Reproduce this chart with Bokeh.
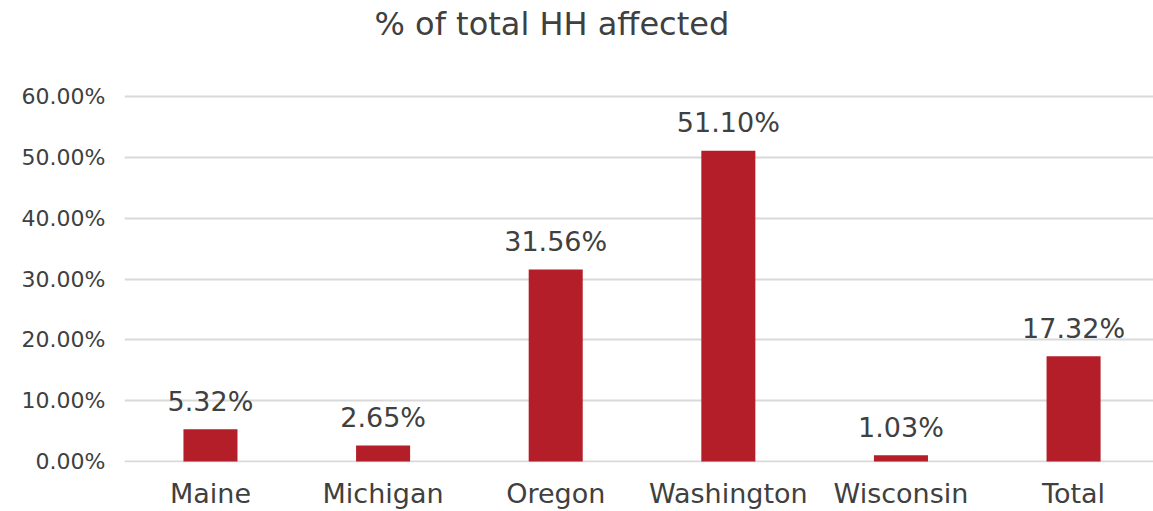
from bokeh.plotting import figure
from bokeh.models import Range1d, FixedTicker, ColumnDataSource, Title
from bokeh.core.properties import value
from bokeh.embed import file_html
from bokeh.resources import INLINE

categories = ["Maine", "Michigan", "Oregon", "Washington", "Wisconsin", "Total"]
pct_values = [5.32, 2.65, 31.56, 51.10, 1.03, 17.32]
y_ticks = [0, 10, 20, 30, 40, 50, 60]
y_tick_labels = ["0.00%", "10.00%", "20.00%", "30.00%", "40.00%", "50.00%", "60.00%"]
title_text = "% of total HH affected"

FONT = "DejaVu Sans"
TXT = "#404040"
BAR = "#B41E28"

xs = list(range(len(categories)))
src = ColumnDataSource(dict(
    x=xs, top=pct_values,
    lbl=["%.2f%%" % v for v in pct_values],
))

p = figure(width=1153, height=511, output_backend="svg", toolbar_location=None,
           x_range=Range1d(-0.498, 5.463), y_range=Range1d(-0.164, 60.986),
           min_border_left=124, min_border_right=0, min_border_top=90,
           min_border_bottom=49)
p.outline_line_color = None
p.background_fill_color = "white"
p.border_fill_color = "white"

# spacer between title and plot frame
spacer = Title(text=" ", text_font=FONT, text_font_size="20px", standoff=21)
p.add_layout(spacer, "above")

p.title.text = title_text
p.title.align = "left"
p.title.offset = 250
p.title.standoff = 2
p.title.text_font = FONT
p.title.text_font_size = "32px"
p.title.text_font_style = "normal"
p.title.text_color = TXT

p.vbar(x="x", top="top", bottom=0, width=0.313, source=src,
       fill_color=BAR, line_color=None)
p.text(x="x", y="top", text="lbl", source=src, text_align="center",
       text_baseline="alphabetic", y_offset=-28, text_font=value(FONT),
       text_font_size="27px", text_color=TXT)

p.xaxis.ticker = FixedTicker(ticks=xs)
p.xaxis.major_label_overrides = {i: c for i, c in zip(xs, categories)}
p.yaxis.ticker = FixedTicker(ticks=y_ticks)
p.yaxis.major_label_overrides = {t: l for t, l in zip(y_ticks, y_tick_labels)}
for ax in (p.xaxis, p.yaxis):
    ax.axis_line_color = None
    ax.major_tick_line_color = None
    ax.minor_tick_line_color = None
    ax.major_tick_out = 0
    ax.major_tick_in = 0
    ax.major_label_text_font = FONT
    ax.major_label_text_color = TXT
p.xaxis.major_label_text_font_size = "27px"
p.xaxis.major_label_text_line_height = 0.7
p.xaxis.major_label_standoff = 15
p.yaxis.major_label_text_font_size = "22px"
p.yaxis.major_label_standoff = 19

p.xgrid.grid_line_color = None
p.ygrid.grid_line_color = "#d9d9d9"
p.ygrid.grid_line_width = 2

open("out.html", "w").write(file_html(p, INLINE))
